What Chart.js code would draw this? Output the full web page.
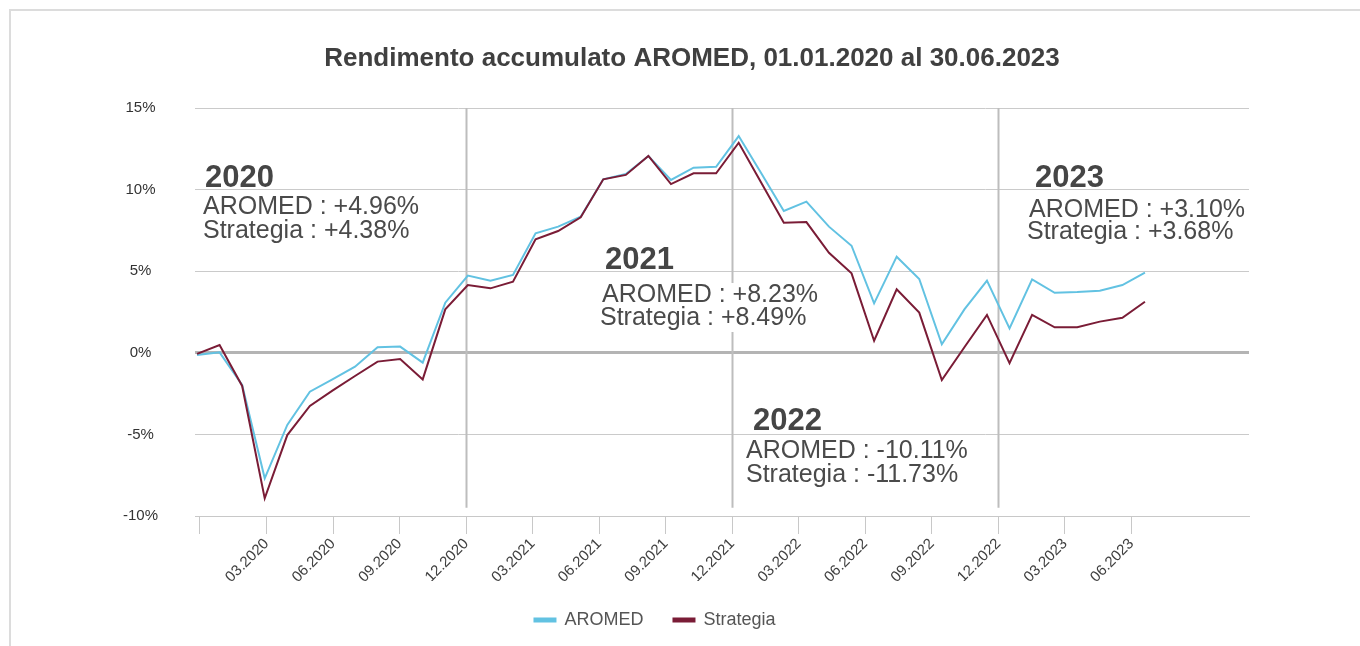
<!DOCTYPE html>
<html>
<head>
<meta charset="utf-8">
<script src="https://cdn.jsdelivr.net/npm/chart.js@4.4.0/dist/chart.umd.min.js"></script>
<style>
  html, body { margin: 0; padding: 0; background: #fff; }
  #wrap { position: relative; width: 1360px; height: 646px; }
  #frame { position: absolute; left: 9px; top: 9px; right: 0; bottom: 0; border-top: 2px solid #dcdcdc; border-left: 2px solid #dcdcdc; }
  canvas { position: absolute; left: 0; top: 0; }
</style>
</head>
<body>
<div id="wrap">
  <div id="frame"></div>
  <canvas id="lineChart" width="1360" height="646"></canvas>
</div>
<script>
  // monthly points, 12.2019 -> 06.2023 (cumulative return, %)
  var months = ["12.2019", "01.2020", "02.2020", "03.2020", "04.2020", "05.2020", "06.2020", "07.2020", "08.2020", "09.2020", "10.2020", "11.2020",
    "12.2020", "01.2021", "02.2021", "03.2021", "04.2021", "05.2021", "06.2021", "07.2021", "08.2021", "09.2021", "10.2021", "11.2021",
    "12.2021", "01.2022", "02.2022", "03.2022", "04.2022", "05.2022", "06.2022", "07.2022", "08.2022", "09.2022", "10.2022", "11.2022",
    "12.2022", "01.2023", "02.2023", "03.2023", "04.2023", "05.2023", "06.2023"];

  var aromed = [-0.13, 0.03, -1.97, -7.69, -4.42, -2.38, -1.63, -0.85, 0.34, 0.38, -0.6, 3.07,
    4.73, 4.42, 4.77, 7.32, 7.73, 8.34, 10.63, 10.96, 12.06, 10.59, 11.34, 11.4,
    13.28, 11.0, 8.69, 9.26, 7.73, 6.56, 3.03, 5.89, 4.52, 0.52, 2.66, 4.42,
    1.5, 4.5, 3.68, 3.72, 3.8, 4.15, 4.91];

  var strategia = [-0.07, 0.48, -2.03, -8.92, -5.04, -3.26, -2.32, -1.42, -0.54, -0.38, -1.63, 2.66,
    4.15, 3.95, 4.36, 6.95, 7.46, 8.3, 10.63, 10.9, 12.06, 10.34, 11.0, 11.0,
    12.87, 10.42, 7.97, 8.01, 6.13, 4.87, 0.74, 3.89, 2.46, -1.67, 0.34, 2.32,
    -0.64, 2.32, 1.56, 1.56, 1.91, 2.15, 3.13];

  // one tick every three months, the first one has no label
  var tickLabels = ["", "03.2020", "06.2020", "09.2020", "12.2020", "03.2021", "06.2021", "09.2021",
    "12.2021", "03.2022", "06.2022", "09.2022", "12.2022", "03.2023", "06.2023"];
  var yTicks = [-10, -5, 0, 5, 10, 15];

  // yearly summary boxes
  var years = ["2020", "2021", "2022", "2023"];
  var yearAromed = ["+4.96%", "+8.23%", "-10.11%", "+3.10%"];
  var yearStrategia = ["+4.38%", "+8.49%", "-11.73%", "+3.68%"];
  var yearEnds = [12, 24, 36]; // month index of the year separators

  var titleText = "Rendimento accumulato AROMED, 01.01.2020 al 30.06.2023";
  var FONT = '"Liberation Sans", Arial, sans-serif';

  // where the yearly boxes sit (left x, baseline y of each line)
  var boxPos = [
    {x: 205, y: 187, x1: 203, y1: 214, x2: 203, y2: 238},
    {x: 605, y: 269, x1: 602, y1: 302, x2: 600, y2: 325},
    {x: 753, y: 430, x1: 746, y1: 458, x2: 746, y2: 482},
    {x: 1035, y: 187, x1: 1029, y1: 217, x2: 1027, y2: 239}
  ];

  var extras = {
    id: "extras",
    beforeDatasetsDraw: function (chart) {
      var ctx = chart.ctx, xs = chart.scales.x, ys = chart.scales.y;
      ctx.save();
      ctx.strokeStyle = "#bdbdbd";
      ctx.lineWidth = 2;
      yearEnds.forEach(function (m) {
        var px = Math.round(xs.getPixelForValue(m)) + 0.5;
        ctx.beginPath();
        ctx.moveTo(px, chart.chartArea.top);
        ctx.lineTo(px, ys.getPixelForValue(-9.5));
        ctx.stroke();
      });
      ctx.restore();
    },
    afterDraw: function (chart) {
      var ctx = chart.ctx;
      ctx.save();
      // title
      ctx.font = "bold 26px " + FONT;
      ctx.fillStyle = "#404040";
      ctx.textAlign = "center";
      ctx.textBaseline = "alphabetic";
      ctx.fillText(titleText, 692, 66);

      ctx.textAlign = "left";
      years.forEach(function (yr, i) {
        var p = boxPos[i];
        var l1 = "AROMED : " + yearAromed[i];
        var l2 = "Strategia : " + yearStrategia[i];
        ctx.font = "25px " + FONT;
        var w = Math.max(p.x1 + ctx.measureText(l1).width, p.x2 + ctx.measureText(l2).width) - Math.min(p.x1, p.x2);
        ctx.fillStyle = "#fff";
        ctx.fillRect(Math.min(p.x1, p.x2) - 2, p.y1 - 19, w + 4, p.y2 - p.y1 + 26);
        ctx.fillStyle = "#4a4a4a";
        ctx.fillText(l1, p.x1, p.y1);
        ctx.fillText(l2, p.x2, p.y2);
        ctx.font = "bold 31px " + FONT;
        ctx.fillStyle = "#454545";
        ctx.fillText(yr, p.x, p.y);
      });
      ctx.restore();
    }
  };

  var lineChartCanvas = document.getElementById("lineChart").getContext("2d");

  var lineChart = new Chart(lineChartCanvas, {
    type: "line",
    data: {
      datasets: [
        {
          label: "AROMED",
          data: aromed.map(function (v, i) { return {x: i, y: v}; }),
          borderColor: "#62c2e2",
          backgroundColor: "#62c2e2",
          borderWidth: 2,
          pointRadius: 0,
          tension: 0,
          order: 1,
          xAxisID: "x2",
          yAxisID: "y"
        },
        {
          label: "Strategia",
          data: strategia.map(function (v, i) { return {x: i, y: v}; }),
          borderColor: "#7a1c36",
          backgroundColor: "#7a1c36",
          borderWidth: 2,
          pointRadius: 0,
          tension: 0,
          order: 0,
          xAxisID: "x2",
          yAxisID: "y"
        }
      ]
    },
    options: {
      responsive: false,
      animation: false,
      layout: { padding: { left: 0, right: 50, top: 108, bottom: 7 } },
      plugins: {
        title: { display: false },
        tooltip: { enabled: false },
        legend: {
          position: "bottom",
          labels: {
            boxWidth: 21,
            boxHeight: 3,
            padding: 30,
            color: "#555",
            font: { size: 18, family: FONT },
            sort: function (a, b) { return a.datasetIndex - b.datasetIndex; }
          }
        }
      },
      scales: {
        x: {
          type: "linear",
          position: "bottom",
          bounds: "data",
          min: -0.225,
          max: 47.3,
          afterBuildTicks: function (s) { s.ticks = tickLabels.map(function (t, i) { return {value: i * 3}; }); },
          ticks: {
            autoSkip: false,
            minRotation: 45,
            maxRotation: 45,
            padding: 1,
            color: "#404040",
            font: { size: 15, family: FONT },
            callback: function (v) { return tickLabels[Math.round(v / 3)]; }
          },
          grid: { drawOnChartArea: false, drawTicks: true, tickLength: 18, color: "#c8c8c8" },
          border: { display: true, color: "#c8c8c8" },
          afterFit: function (s) { s.height = 65; }
        },
        x2: {
          type: "linear",
          display: false,
          bounds: "data",
          min: -0.089,
          max: 46.61
        },
        y: {
          min: -10,
          max: 15,
          afterBuildTicks: function (s) { s.ticks = yTicks.map(function (v) { return {value: v}; }); },
          ticks: {
            crossAlign: "center",
            padding: 37,
            color: "#333",
            font: { size: 15, family: FONT },
            callback: function (v) { return v + "%"; }
          },
          grid: {
            drawTicks: false,
            color: function (c) { return c.tick && c.tick.value === 0 ? "#b4b4b4" : "#cacaca"; },
            lineWidth: function (c) { return c.tick && c.tick.value === 0 ? 3 : 1; }
          },
          border: { display: false },
          afterFit: function (s) { s.width = 195; }
        },
        yR: {
          type: "linear",
          position: "right",
          display: true,
          ticks: { display: false },
          grid: { display: false },
          border: { display: false },
          afterFit: function (s) { s.width = 61; }
        }
      }
    },
    plugins: [extras]
  });
</script>
</body>
</html>
